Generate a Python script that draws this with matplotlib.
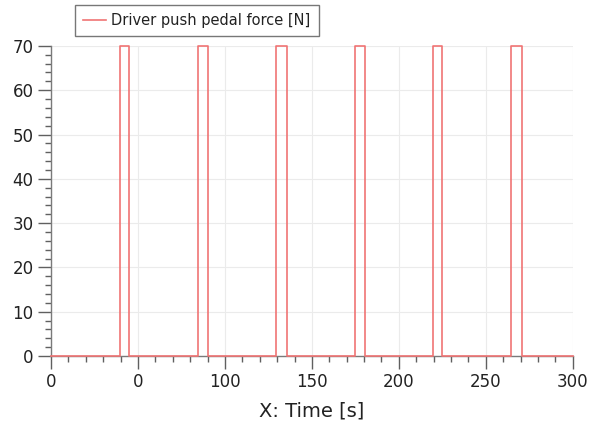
import matplotlib
matplotlib.use("Agg")
import matplotlib.pyplot as plt
from matplotlib.ticker import MultipleLocator, FixedLocator, FixedFormatter

# Pedal push events: start and end times [s] and force level [N]
push_start = [39.5, 84.5, 129.5, 174.5, 219.5, 264.5]
push_end = [45.0, 90.0, 135.5, 180.5, 225.0, 270.5]
push_force = [70, 70, 70, 70, 70, 70]
t_end = 300

x_tick_values = [0, 50, 100, 150, 200, 250, 300]
x_tick_labels = ["0", "0", "100", "150", "200", "250", "300"]
y_tick_values = [0, 10, 20, 30, 40, 50, 60, 70]

# Build the step signal from the push events
t = [0.0]
f = [0.0]
for s, e, v in zip(push_start, push_end, push_force):
    t += [s, s, e, e]
    f += [0.0, v, v, 0.0]
t.append(t_end)
f.append(0.0)

plt.rcParams["font.family"] = ["DejaVu Sans"]

fig = plt.figure(figsize=(5.93, 4.29), dpi=100)
ax = fig.add_axes([0.086, 0.170, 0.880, 0.723])

line, = ax.plot(t, f, color="#f07474", lw=1.2, clip_on=False, zorder=5,
                label="Driver push pedal force [N]")

ax.set_xlim(0, 300)
ax.set_ylim(0, 70)

ax.xaxis.set_major_locator(FixedLocator(x_tick_values))
ax.xaxis.set_major_formatter(FixedFormatter(x_tick_labels))
ax.xaxis.set_minor_locator(MultipleLocator(10))
ax.yaxis.set_major_locator(FixedLocator(y_tick_values))
ax.yaxis.set_minor_locator(MultipleLocator(2))

for side in ("top", "right"):
    ax.spines[side].set_visible(False)
for side in ("left", "bottom"):
    ax.spines[side].set_color("#7a7a7a")
    ax.spines[side].set_linewidth(1.0)

ax.tick_params(axis="both", which="major", color="#606060", width=1.0,
               labelsize=12, labelcolor="#222222", pad=3)
ax.tick_params(axis="x", which="major", length=9)
ax.tick_params(axis="y", which="major", length=9.5)
ax.tick_params(axis="both", which="minor", color="#606060", width=1.0, length=4.5)

ax.grid(True, which="major", color="#ebebeb", lw=0.8)
ax.set_axisbelow(True)

ax.set_xlabel("X: Time [s]", fontsize=14, color="#222222", labelpad=8)

leg = fig.legend(handles=[line], loc="upper left",
                 bbox_to_anchor=(75 / 593, 1 - 5 / 429),
                 fontsize=10.5, frameon=True, fancybox=False,
                 handlelength=1.6, handletextpad=0.35,
                 borderpad=0.55, borderaxespad=0)
leg.get_frame().set_edgecolor("#555555")
leg.get_frame().set_linewidth(1.0)
for txt in leg.get_texts():
    txt.set_color("#222222")

fig.savefig("out.png", dpi=100)
